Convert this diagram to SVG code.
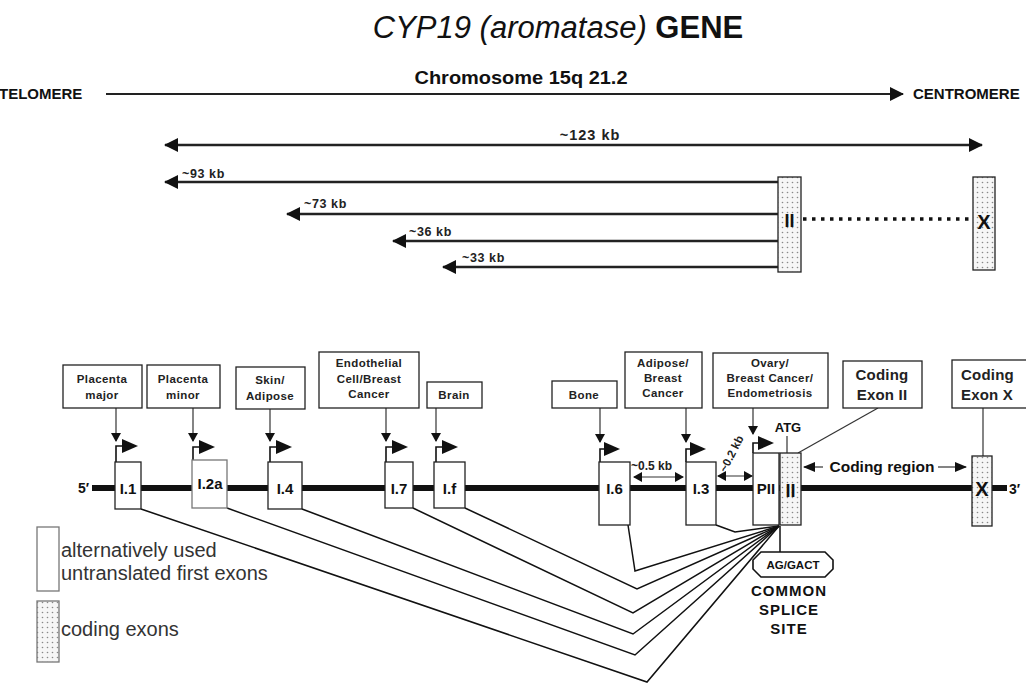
<svg xmlns="http://www.w3.org/2000/svg" width="1026" height="683" viewBox="0 0 1026 683">
<defs>
<pattern id="dots" width="5" height="5" patternUnits="userSpaceOnUse">
<rect width="5" height="5" fill="#f6f6f6"/>
<circle cx="2.5" cy="2.5" r="0.8" fill="#888"/>
</pattern>
<marker id="big" markerUnits="userSpaceOnUse" markerWidth="14" markerHeight="14" refX="13" refY="7" orient="auto-start-reverse" viewBox="0 0 14 14"><path d="M0,0 L14,7 L0,14 z" fill="#111"/></marker>
<marker id="med" markerUnits="userSpaceOnUse" markerWidth="12" markerHeight="10" refX="11" refY="5" orient="auto-start-reverse" viewBox="0 0 12 10"><path d="M0,0 L12,5 L0,10 z" fill="#111"/></marker>
<marker id="dn" markerUnits="userSpaceOnUse" markerWidth="9" markerHeight="10" refX="8" refY="5" orient="auto-start-reverse" viewBox="0 0 9 10"><path d="M0,0 L9,5 L0,10 z" fill="#111"/></marker>
</defs>
<style>
.t{font-family:"Liberation Sans",Arial,sans-serif;fill:#111}
.b{font-weight:bold}
.lbl{font-family:"Liberation Sans",Arial,sans-serif;font-weight:bold;font-size:11.5px;fill:#222;text-anchor:middle;letter-spacing:0.4px}
.big{font-size:15px;letter-spacing:0.2px}
.st{text-anchor:start}
.ex{font-family:"Liberation Sans",Arial,sans-serif;font-weight:bold;font-size:15px;fill:#111;text-anchor:middle}
.kbt{font-family:"Liberation Sans",Arial,sans-serif;font-weight:bold;font-size:12.5px;fill:#222;letter-spacing:0.6px}
.box{fill:#fff;stroke:#222;stroke-width:1.3}
.cbox{fill:url(#dots);stroke:#222;stroke-width:1.3}
.thin{stroke:#333;stroke-width:1.2;fill:none}
.sp{stroke:#111;stroke-width:1.5;fill:none}
.kb{stroke:#222;stroke-width:2.5;fill:none}
.flag{stroke:#111;stroke-width:1.6;fill:none}
.tri{fill:#111}
.leg{font-family:"Liberation Sans",Arial,sans-serif;font-size:20px;fill:#333}
</style>

<g id="title">
<text class="t" x="558" y="38" text-anchor="middle" font-size="31"><tspan font-style="italic">CYP19 (aromatase)</tspan> <tspan font-weight="bold">GENE</tspan></text>
</g>

<g id="chromosome">
<text class="t b" x="521" y="84" text-anchor="middle" font-size="18" textLength="213" lengthAdjust="spacingAndGlyphs">Chromosome 15q 21.2</text>
<text class="t b" x="-1" y="99" font-size="15">TELOMERE</text>
<text class="t b" x="913" y="99" font-size="15">CENTROMERE</text>
</g>

<g id="top-exons">
<rect id="top-exon-II" class="cbox" x="778" y="177" width="23" height="95"/>
<text class="t b" x="789.5" y="227" text-anchor="middle" font-size="18">II</text>
<rect id="top-exon-X" class="cbox" x="973" y="177" width="22" height="93"/>
<text class="t b" x="984" y="229" text-anchor="middle" font-size="20">X</text>
</g>

<g id="top-connectors">
<line x1="106" y1="94" x2="903" y2="94" stroke="#222" stroke-width="2" marker-end="url(#big)"/>
<line class="kb" x1="165" y1="145" x2="982" y2="145" marker-start="url(#big)" marker-end="url(#big)"/>
<text class="kbt" x="590" y="140" text-anchor="middle" style="font-size:14.5px;letter-spacing:1px">~123 kb</text>
<line class="kb" x1="778" y1="182" x2="165" y2="182" marker-end="url(#big)"/>
<text class="kbt" x="182" y="178">~93 kb</text>
<line class="kb" x1="778" y1="214" x2="287" y2="214" marker-end="url(#big)"/>
<text class="kbt" x="304" y="208">~73 kb</text>
<line class="kb" x1="778" y1="241" x2="393" y2="241" marker-end="url(#big)"/>
<text class="kbt" x="409" y="236">~36 kb</text>
<line class="kb" x1="778" y1="267" x2="443" y2="267" marker-end="url(#big)"/>
<text class="kbt" x="462" y="262">~33 kb</text>
<line x1="803" y1="219" x2="972" y2="219" stroke="#111" stroke-width="3.5" stroke-dasharray="3.5 5.5"/>
</g>

<g id="gene-line">
<line x1="92" y1="488" x2="1007" y2="488" stroke="#111" stroke-width="6"/>
<text class="t b" x="78" y="493" font-size="14">5′</text>
<text class="t b" x="1009" y="494" font-size="14">3′</text>
</g>

<g id="connectors">
<line class="thin" x1="116" y1="408" x2="116" y2="441" marker-end="url(#dn)"/>
<line class="thin" x1="193" y1="408" x2="193" y2="441" marker-end="url(#dn)"/>
<line class="thin" x1="270" y1="409" x2="270" y2="441" marker-end="url(#dn)"/>
<line class="thin" x1="386" y1="408" x2="386" y2="441" marker-end="url(#dn)"/>
<line class="thin" x1="436" y1="408" x2="436" y2="441" marker-end="url(#dn)"/>
<line class="thin" x1="600" y1="408" x2="600" y2="442" marker-end="url(#dn)"/>
<line class="thin" x1="686" y1="408" x2="686" y2="442" marker-end="url(#dn)"/>
<line class="thin" x1="753" y1="408" x2="753" y2="434" marker-end="url(#dn)"/>
<line class="thin" x1="787" y1="436" x2="787" y2="453"/>
<line class="thin" x1="798" y1="453" x2="878" y2="408"/>
<line class="thin" x1="983" y1="408" x2="983" y2="456"/>
<line class="thin" x1="823" y1="467" x2="804" y2="467" stroke-width="1.5" marker-end="url(#med)"/>
<line class="thin" x1="938" y1="467" x2="966" y2="467" stroke-width="1.5" marker-end="url(#med)"/>
<line class="thin" x1="634" y1="477" x2="683" y2="477" stroke-width="1.5" marker-start="url(#dn)" marker-end="url(#dn)"/>
<line class="thin" x1="718" y1="476" x2="752" y2="476" stroke-width="1.5" marker-start="url(#dn)" marker-end="url(#dn)"/>
<polyline class="sp" points="141,509 647,682 779,526"/>
<polyline class="sp" points="227,508 635,655 779,526"/>
<polyline class="sp" points="302,509 633,634 779,526"/>
<polyline class="sp" points="413,508 633,613 779,526"/>
<polyline class="sp" points="465,508 637,589 779,526"/>
<polyline class="sp" points="628,525 635,571 779,526"/>
<polyline class="sp" points="716,525 735,532 779,526"/>
<line class="sp" x1="780" y1="526" x2="780" y2="552"/>
<path class="flag" d="M116,462 V446 H123"/><path class="tri" d="M122,439 L138,446 L122,453 z"/>
<path class="flag" d="M193,460 V447 H200"/><path class="tri" d="M199,440 L215,447 L199,454 z"/>
<path class="flag" d="M270,462 V447 H277"/><path class="tri" d="M276,440 L292,447 L276,454 z"/>
<path class="flag" d="M386,462 V447 H393"/><path class="tri" d="M392,440 L408,447 L392,454 z"/>
<path class="flag" d="M436,462 V447 H443"/><path class="tri" d="M442,440 L458,447 L442,454 z"/>
<path class="flag" d="M600,462 V449 H607"/><path class="tri" d="M604,442 L620,449 L604,456 z"/>
<path class="flag" d="M686,462 V449 H693"/><path class="tri" d="M690,442 L706,449 L690,456 z"/>
<path class="flag" d="M753,453 V443 H760"/><path class="tri" d="M758,436 L774,443 L758,450 z"/>
</g>

<g id="label-placenta-major"><rect class="box" x="63" y="365" width="79" height="43"/><text class="lbl" x="102" y="383">Placenta</text><text class="lbl" x="102" y="399">major</text></g>
<g id="label-placenta-minor"><rect class="box" x="147" y="365" width="73" height="43"/><text class="lbl" x="183" y="383">Placenta</text><text class="lbl" x="183" y="399">minor</text></g>
<g id="label-skin"><rect class="box" x="236" y="367" width="69" height="42"/><text class="lbl" x="270" y="384">Skin/</text><text class="lbl" x="270" y="400">Adipose</text></g>
<g id="label-endothelial"><rect class="box" x="319" y="352" width="100" height="56"/><text class="lbl" x="369" y="367">Endothelial</text><text class="lbl" x="369" y="383">Cell/Breast</text><text class="lbl" x="369" y="398">Cancer</text></g>
<g id="label-brain"><rect class="box" x="427" y="382" width="55" height="26"/><text class="lbl" x="454" y="399">Brain</text></g>
<g id="label-bone"><rect class="box" x="552" y="381" width="65" height="27"/><text class="lbl" x="584" y="399">Bone</text></g>
<g id="label-adipose"><rect class="box" x="625" y="352" width="77" height="56"/><text class="lbl" x="663" y="367">Adipose/</text><text class="lbl" x="663" y="382">Breast</text><text class="lbl" x="663" y="397">Cancer</text></g>
<g id="label-ovary"><rect class="box" x="713" y="353" width="115" height="55"/><text class="lbl" x="770" y="367">Ovary/</text><text class="lbl" x="770" y="382">Breast Cancer/</text><text class="lbl" x="770" y="397">Endometriosis</text></g>
<g id="label-coding-II"><rect class="box" x="843" y="361" width="79" height="47"/><text class="lbl big" x="882" y="380">Coding</text><text class="lbl big" x="882" y="400">Exon II</text></g>
<g id="label-coding-X"><rect class="box" x="952" y="360" width="80" height="48"/><text class="lbl big st" x="961" y="380">Coding</text><text class="lbl big st" x="961" y="400">Exon X</text></g>

<g id="exon-I1"><rect class="box" x="115" y="462" width="26" height="47"/><text class="ex" x="128" y="494">I.1</text></g>
<g id="exon-I2a"><rect class="box" x="192" y="460" width="35" height="48" style="stroke:#777"/><text class="ex" x="210" y="489">I.2a</text></g>
<g id="exon-I4"><rect class="box" x="268" y="462" width="34" height="47"/><text class="ex" x="285" y="494">I.4</text></g>
<g id="exon-I7"><rect class="box" x="385" y="462" width="28" height="46"/><text class="ex" x="399" y="494">I.7</text></g>
<g id="exon-If"><rect class="box" x="434" y="462" width="31" height="46"/><text class="ex" x="449.5" y="494">I.f</text></g>
<g id="exon-I6"><rect class="box" x="599" y="462" width="31" height="63"/><text class="ex" x="614.5" y="494">I.6</text></g>
<g id="exon-I3"><rect class="box" x="686" y="462" width="30" height="63"/><text class="ex" x="701" y="494">I.3</text></g>
<g id="exon-PII"><rect class="box" x="753" y="453" width="26" height="72"/><text class="ex" x="766" y="494">PII</text></g>
<g id="exon-II"><rect class="cbox" x="780" y="453" width="21" height="72"/><text class="ex" x="790.5" y="497" style="font-size:18px">II</text></g>
<g id="exon-X"><rect class="cbox" x="972" y="456" width="20" height="70"/><text class="ex" x="982" y="496" style="font-size:20px">X</text></g>

<g id="annotations">
<text class="t b" x="788" y="432" text-anchor="middle" font-size="13">ATG</text>
<text class="t b" x="882" y="472" text-anchor="middle" font-size="15.5">Coding region</text>
<text class="kbt" x="631" y="470" style="font-size:12px;letter-spacing:0">~0.5 kb</text>
<text class="kbt" transform="translate(726,473) rotate(-63)" style="font-size:11.5px;letter-spacing:0">~0.2 kb</text>
</g>

<g id="splice-site">
<path d="M761,552 H825 L833,560 V569 L825,577 H761 L753,569 V560 Z" fill="#fff" stroke="#111" stroke-width="1.6"/>
<text class="t b" x="793" y="569" text-anchor="middle" font-size="11.5">AG/GACT</text>
<text class="t b" x="789" y="596" text-anchor="middle" font-size="15" letter-spacing="1">COMMON</text>
<text class="t b" x="789" y="615" text-anchor="middle" font-size="15" letter-spacing="1">SPLICE</text>
<text class="t b" x="789" y="634" text-anchor="middle" font-size="15" letter-spacing="1">SITE</text>
</g>

<g id="legend">
<rect x="37" y="527" width="22" height="64" fill="#fff" stroke="#777" stroke-width="1.3"/>
<text class="leg" x="61" y="557">alternatively used</text>
<text class="leg" x="61" y="580">untranslated first exons</text>
<rect x="37" y="601" width="22" height="61" fill="url(#dots)" stroke="#777" stroke-width="1.3"/>
<text class="leg" x="61" y="636">coding exons</text>
</g>
</svg>
